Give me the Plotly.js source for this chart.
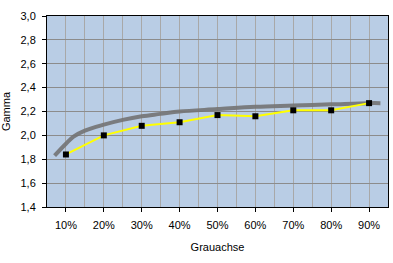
<!DOCTYPE html>
<html><head><meta charset="utf-8">
<script src="https://cdn.plot.ly/plotly-3.0.1.min.js"></script>
<style>html,body{margin:0;padding:0;background:#fff}#chart{width:393px;height:263px}</style>
</head><body><div id="chart"></div>
<script>
var measX = [10, 20, 30, 40, 50, 60, 70, 80, 90];
var measY = [1.84, 2.00, 2.08, 2.11, 2.17, 2.16, 2.21, 2.21, 2.27];
var refX = [7, 10, 12, 15, 20, 25, 30, 35, 40, 50, 60, 70, 80, 90, 93];
var refY = [1.83, 1.93, 1.99, 2.04, 2.09, 2.13, 2.16, 2.18, 2.20, 2.22, 2.24, 2.25, 2.26, 2.27, 2.27];
var xTicks = [10, 20, 30, 40, 50, 60, 70, 80, 90];
var xTickText = ['10%', '20%', '30%', '40%', '50%', '60%', '70%', '80%', '90%'];
var yTicks = [1.4, 1.6, 1.8, 2.0, 2.2, 2.4, 2.6, 2.8, 3.0];

var font = {family: 'Liberation Sans, Arial, sans-serif', size: 11, color: '#000'};
var traces = [
  {x: refX, y: refY, mode: 'lines', line: {color: 'rgba(115,115,115,0.9)', width: 4, shape: 'spline'}, hoverinfo: 'skip'},
  {x: measX, y: measY, mode: 'lines+markers', line: {color: '#ffff00', width: 2},
   marker: {symbol: 'square', size: 6, color: '#000'}}
];
var layout = {
  width: 393, height: 263,
  margin: {l: 47, r: 5, t: 16, b: 56},
  paper_bgcolor: '#fff', plot_bgcolor: '#b9cde5',
  showlegend: false,
  separators: ',.',
  font: font,
  xaxis: {
    range: [5, 95], tickmode: 'array', tickvals: xTicks, ticktext: xTickText,
    showgrid: true, gridcolor: '#a8a8a8', gridwidth: 1,
    minor: {dtick: 5, tick0: 0, showgrid: true, gridcolor: '#a8a8a8', gridwidth: 1},
    ticks: 'outside', ticklen: 4, tickcolor: '#000', ticklabelstandoff: 4,
    showline: true, linecolor: '#000', linewidth: 1, mirror: true,
    zeroline: false, tickfont: font,
    title: {text: 'Grauachse', font: font, standoff: 13}
  },
  yaxis: {
    range: [1.4, 3.0], tickvals: yTicks, tickformat: '.1f',
    showgrid: true, gridcolor: '#8c8c8c', gridwidth: 1,
    ticks: 'outside', ticklen: 4, tickcolor: '#000', ticklabelstandoff: 4,
    showline: true, linecolor: '#000', linewidth: 1, mirror: true,
    zeroline: false, tickfont: font,
    title: {text: 'Gamma', font: font, standoff: 9}
  }
};
Plotly.newPlot('chart', traces, layout, {displayModeBar: false, staticPlot: true});
</script></body></html>
